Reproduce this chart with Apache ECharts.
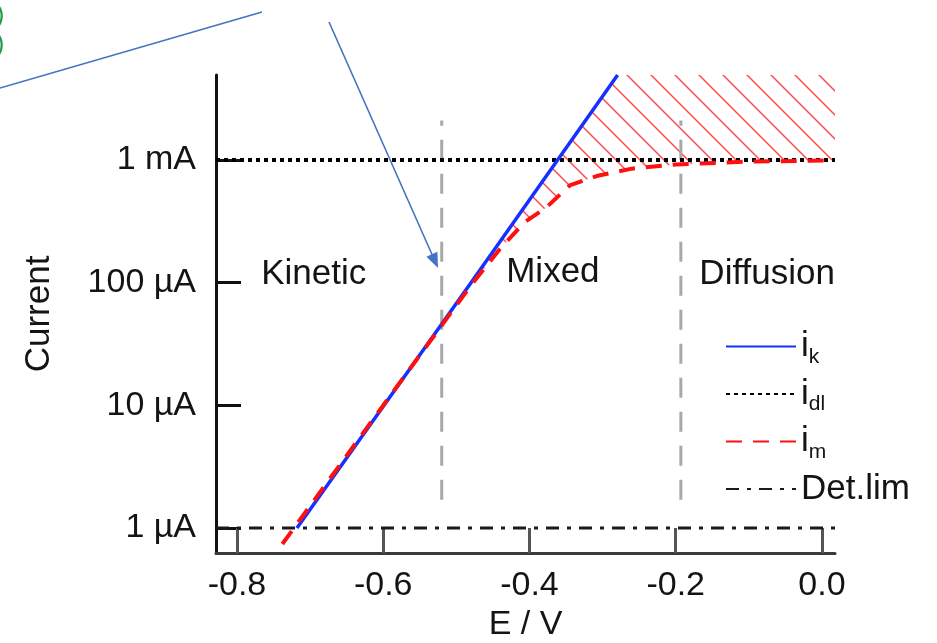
<!DOCTYPE html>
<html><head><meta charset="utf-8">
<script src="https://cdn.jsdelivr.net/npm/echarts@6/dist/echarts.min.js"></script>
<style>html,body{margin:0;padding:0;background:#fff}#c{width:937px;height:643px}</style>
</head><body><div id="c"></div>
<script>
// ---- data ----
const xTickValues = [-0.8, -0.6, -0.4, -0.2, 0.0];
const yTickValues = [1e-6, 1e-5, 1e-4, 1e-3];
const yTickLabels = ['1 µA', '10 µA', '100 µA', '1 mA'];
const xRange = [-0.8287, 0.0178];
const yRange = [6.25e-7, 4.93e-3];

const iK = [[-0.718, 1.0e-6], [-0.48, 1.0e-4], [-0.2795, 4.93e-3]];
const iDL = [[-0.8287, 1e-3], [0.0178, 1e-3]];
const iM = [[-0.738, 7.4e-7], [-0.60, 1.0e-5], [-0.48, 9.5e-5], [-0.44, 1.9e-4], [-0.407, 3.1e-4],
            [-0.377, 4.1e-4], [-0.345, 6.2e-4], [-0.308, 7.4e-4], [-0.26, 8.5e-4], [-0.2, 9.2e-4],
            [-0.1, 9.7e-4], [0.012, 9.9e-4]];
const detLim = [[-0.8287, 1e-6], [0.0178, 1e-6]];
const boundaryKM = [[-0.52, 1.7e-6], [-0.52, 2.1e-3]];
const boundaryMD = [[-0.193, 1.7e-6], [-0.193, 2.1e-3]];
const regionNames = ['Kinetic', 'Mixed', 'Diffusion'];
const regionPos = [[-0.695, 1.16e-4], [-0.368, 1.22e-4], [-0.075, 1.16e-4]];
const legendNames = ['i_k', 'i_dl', 'i_m', 'Det.lim'];

// hatch polygon: between i_m (below) and the top of the plot, right of i_k
const divX = -0.48;
const hatchPoly = []
  .concat(iM.filter(p => p[0] >= divX))
  .concat([[xRange[1], iM[iM.length - 1][1]], [xRange[1], yRange[1]]])
  .concat(iK.filter(p => p[0] >= divX).reverse());

// hatch pattern
const pat = document.createElement('canvas');
pat.width = 24; pat.height = 24;
const pc = pat.getContext('2d');
pc.strokeStyle = 'rgba(255,30,30,0.8)';
pc.lineWidth = 1.5;
pc.beginPath();
pc.moveTo(-2, -2); pc.lineTo(26, 26);
pc.moveTo(-2, 22); pc.lineTo(2, 26);
pc.moveTo(22, -2); pc.lineTo(26, 2);
pc.stroke();

const FONT = 'Liberation Sans, Arial, Helvetica, sans-serif';
const TXT = '#141414';

// arrow annotation
const a0 = [329, 22], a1 = [438, 268];
const dx = a1[0] - a0[0], dy = a1[1] - a0[1], L = Math.hypot(dx, dy);
const ux = dx / L, uy = dy / L;
const head = [a1, [a1[0] - 15 * ux - 6 * uy, a1[1] - 15 * uy + 6 * ux], [a1[0] - 15 * ux + 6 * uy, a1[1] - 15 * uy - 6 * ux]];

const chart = echarts.init(document.getElementById('c'), null, {renderer: 'canvas'});
chart.setOption({
  animation: false,
  backgroundColor: '#fff',
  grid: {left: 216, top: 75, right: 102, bottom: 90, containLabel: false, outerBoundsMode: 'none'},
  xAxis: {
    type: 'value', min: xRange[0], max: xRange[1],
    name: 'E / V', nameLocation: 'middle', nameGap: 53,
    nameTextStyle: {fontFamily: FONT, fontSize: 34, color: TXT},
    axisLine: {onZero: false, lineStyle: {color: '#3a3a3a', width: 3}},
    axisTick: {show: true, inside: true, length: 25, customValues: xTickValues, lineStyle: {color: '#555', width: 3}},
    axisLabel: {customValues: xTickValues, margin: 16, fontFamily: FONT, fontSize: 34, color: TXT,
      formatter: v => Number(v).toFixed(1)},
    splitLine: {show: false}
  },
  yAxis: {
    type: 'log', min: yRange[0], max: yRange[1], logBase: 10,
    name: 'Current', nameLocation: 'middle', nameGap: 159, nameRotate: 90,
    nameTextStyle: {fontFamily: FONT, fontSize: 35, color: TXT},
    axisLine: {show: true, onZero: false, lineStyle: {color: '#111', width: 3}},
    axisTick: {show: true, inside: true, length: 25, customValues: yTickValues, lineStyle: {color: '#111', width: 3}},
    axisLabel: {customValues: yTickValues, margin: 20, fontFamily: FONT, fontSize: 34, color: TXT,
      formatter: v => yTickLabels[Math.round(Math.log10(v)) + 6]},
    splitLine: {show: false}
  },
  legend: {
    data: legendNames, orient: 'vertical', left: 720, top: 324,
    itemWidth: 70, itemHeight: 14, itemGap: 9,
    itemStyle: {opacity: 0},
    formatter: n => {
      const i = n.indexOf('_');
      return i < 0 ? '{m|' + n + '}' : '{m|' + n.slice(0, i) + '}{s|' + n.slice(i + 1) + '}';
    },
    textStyle: {
      rich: {
        m: {fontFamily: FONT, fontSize: 35, color: TXT, lineHeight: 42, verticalAlign: 'middle'},
        s: {fontFamily: FONT, fontSize: 21, color: TXT, lineHeight: 21, verticalAlign: 'bottom'}
      }
    }
  },
  series: [
    {type: 'custom', name: 'hatch', z: 1, silent: true, data: hatchPoly,
      encode: {x: 0, y: 1},
      renderItem: (params, api) => {
        if (params.dataIndex !== 0) return;
        return {type: 'polygon', shape: {points: hatchPoly.map(p => api.coord(p))},
          style: {fill: {image: pat, repeat: 'repeat'}, stroke: null}};
      }},
    {type: 'line', z: 2, data: boundaryKM, symbol: 'none', silent: true,
      lineStyle: {color: '#a8a8a8', width: 3, type: [20, 14]}},
    {type: 'line', z: 2, data: boundaryMD, symbol: 'none', silent: true,
      lineStyle: {color: '#a8a8a8', width: 3, type: [20, 14]}},
    {type: 'line', name: 'Det.lim', z: 3, data: detLim, symbol: 'none',
      itemStyle: {color: '#1a1a1a'},
      lineStyle: {color: '#1a1a1a', width: 3, type: [13, 8, 4, 8]}},
    {type: 'line', name: 'i_dl', z: 4, data: iDL, symbol: 'none',
      itemStyle: {color: '#000'},
      lineStyle: {color: '#000', width: 4, type: [4, 4]}},
    {type: 'line', name: 'i_k', z: 5, data: iK, symbol: 'none',
      itemStyle: {color: '#1530ff'},
      lineStyle: {color: '#1530ff', width: 3.5}},
    {type: 'line', name: 'i_m', z: 6, data: iM, symbol: 'none',
      itemStyle: {color: '#ff1010'},
      lineStyle: {color: '#ff1010', width: 4, type: [16, 11]}},
    {type: 'scatter', z: 7, symbolSize: 0, silent: true,
      itemStyle: {opacity: 1, color: TXT},
      data: regionNames.map((n, i) => ({name: n, value: regionPos[i]})),
      label: {show: true, position: 'inside', formatter: p => p.name,
        fontFamily: FONT, fontSize: 35, color: TXT, opacity: 1}}
  ],
  graphic: [
    {type: 'line', shape: {x1: 0, y1: 88, x2: 262, y2: 12}, style: {stroke: '#4472c4', lineWidth: 1.6}, z: 100},
    {type: 'line', shape: {x1: a0[0], y1: a0[1], x2: a1[0] - 12 * ux, y2: a1[1] - 12 * uy}, style: {stroke: '#4472c4', lineWidth: 1.6}, z: 100},
    {type: 'polygon', shape: {points: head}, style: {fill: '#4472c4'}, z: 100},
    {type: 'text', x: -4, y: 4, style: {text: ')', fontFamily: FONT, fontSize: 25, fill: '#1f9d4c'}, z: 100},
    {type: 'text', x: -4, y: 33, style: {text: ')', fontFamily: FONT, fontSize: 25, fill: '#1f9d4c'}, z: 100}
  ]
});
</script></body></html>
